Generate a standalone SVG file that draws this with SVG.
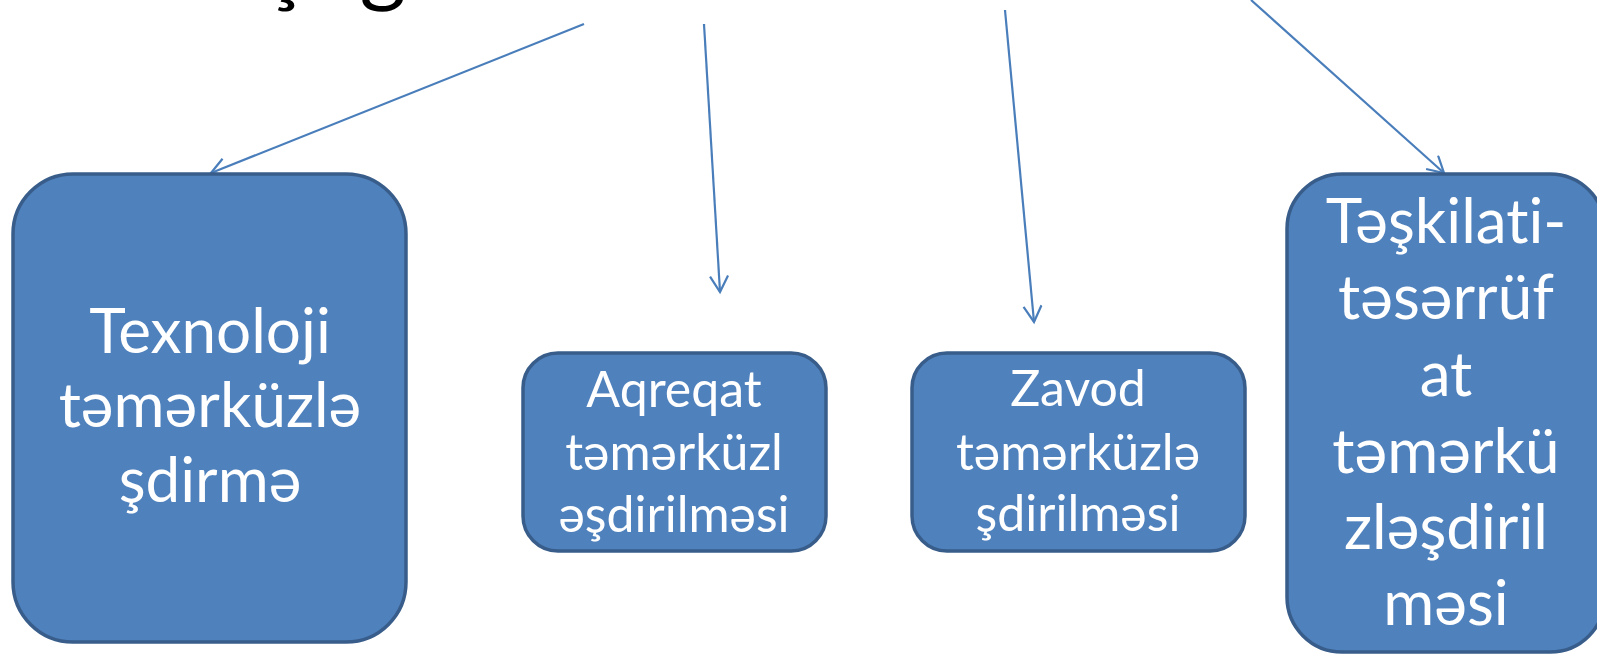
<svg xmlns="http://www.w3.org/2000/svg" width="1597" height="655" viewBox="0 0 1597 655">
  <style>
    .box { fill: #4f81bd; stroke: #385d8a; stroke-width: 3.5; }
    .lbl { fill: #ffffff; font-family: Lato, "Open Sans", "Liberation Sans", sans-serif; text-anchor: middle; font-variant-ligatures: none; font-feature-settings: "liga" 0; }
    .big { font-size: 62px; }
    .mid { font-size: 50px; }
    .conn { stroke: #4a7ebb; stroke-width: 2.2; fill: none; marker-end: url(#arr); }
    .title { fill: #000000; font-family: Lato, "Open Sans", "Liberation Sans", sans-serif; font-size: 90px; text-anchor: middle; }
  </style>
  <defs>
    <marker id="arr" markerUnits="userSpaceOnUse" markerWidth="22" markerHeight="22" refX="17" refY="10" orient="auto">
      <path d="M1,1 L17,10 L1,19" fill="none" stroke="#4a7ebb" stroke-width="2.2"/>
    </marker>
  </defs>
  <rect width="1597" height="655" fill="#ffffff"/>

  <g id="title">
    <text class="title" x="286" y="-5">ş</text>
    <text class="title" x="383" y="-5">g</text>
  </g>

  <g id="connectors">
    <line class="conn" x1="584" y1="24" x2="211" y2="173"/>
    <line class="conn" x1="704" y1="24" x2="720" y2="292"/>
    <line class="conn" x1="1005" y1="10" x2="1034" y2="322"/>
    <line class="conn" x1="1251" y1="0" x2="1444" y2="173"/>
  </g>

  <g id="node-texnoloji">
    <rect class="box" x="13" y="174" width="393" height="468" rx="60" ry="60"/>
    <text class="lbl big" x="210" y="353">Texnoloji</text>
    <text class="lbl big" x="210" y="427">təmərküzlə</text>
    <text class="lbl big" x="210" y="502">şdirmə</text>
  </g>

  <g id="node-aqreqat">
    <rect class="box" x="523" y="353" width="303" height="198" rx="35" ry="35"/>
    <text class="lbl mid" x="674" y="407">Aqreqat</text>
    <text class="lbl mid" x="674" y="470">təmərküzl</text>
    <text class="lbl mid" x="674" y="532">əşdirilməsi</text>
  </g>

  <g id="node-zavod">
    <rect class="box" x="912" y="353" width="333" height="198" rx="35" ry="35"/>
    <text class="lbl mid" x="1078" y="406">Zavod</text>
    <text class="lbl mid" x="1078" y="470">təmərküzlə</text>
    <text class="lbl mid" x="1078" y="531">şdirilməsi</text>
  </g>

  <g id="node-teskilati">
    <rect class="box" x="1287" y="174" width="318" height="478" rx="55" ry="55"/>
    <text class="lbl big" x="1446" y="243">Təşkilati-</text>
    <text class="lbl big" x="1446" y="319">təsərrüf</text>
    <text class="lbl big" x="1446" y="396">at</text>
    <text class="lbl big" x="1446" y="473">təmərkü</text>
    <text class="lbl big" x="1446" y="549">zləşdiril</text>
    <text class="lbl big" x="1446" y="625">məsi</text>
  </g>
</svg>
